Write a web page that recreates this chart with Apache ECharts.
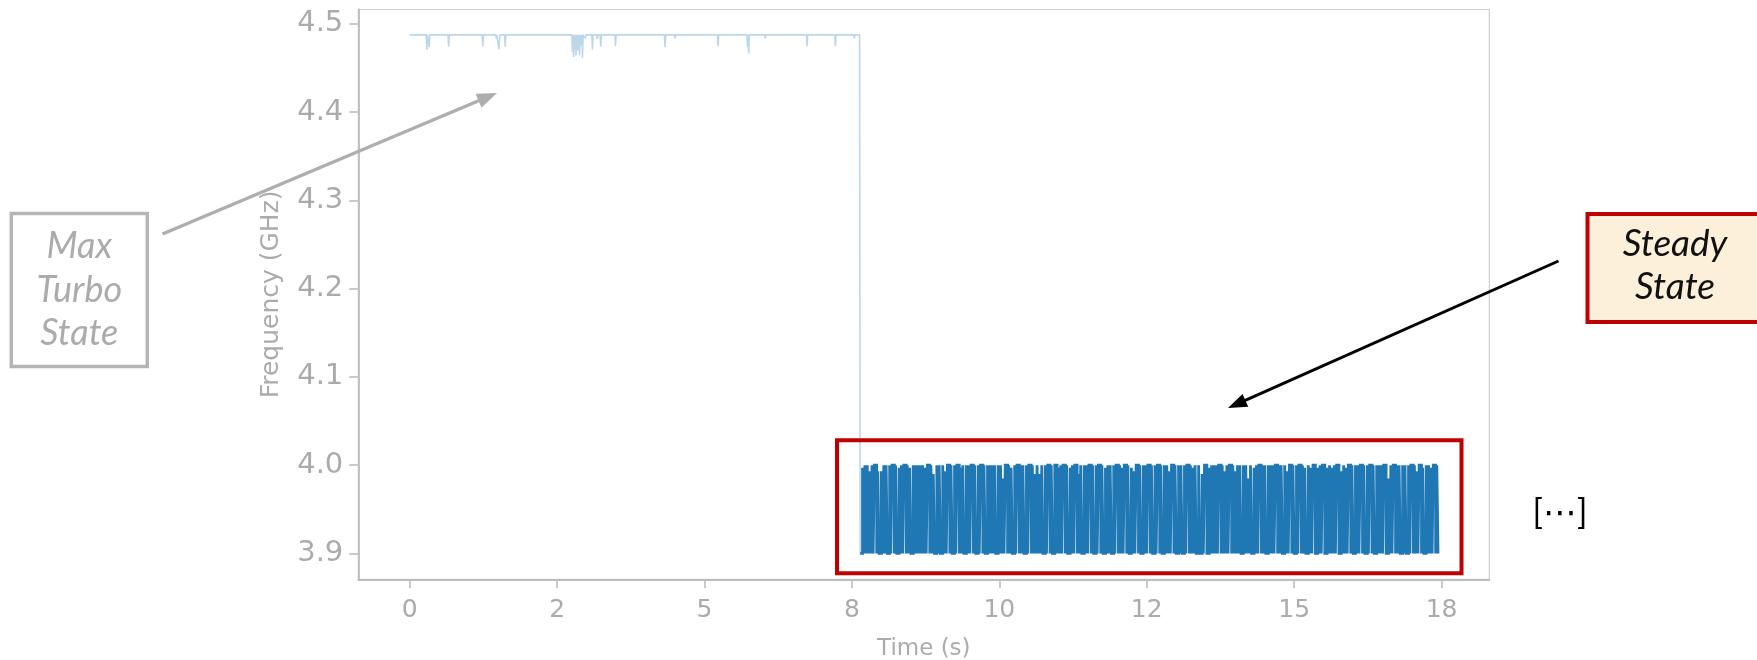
<!DOCTYPE html>
<html>
<head>
<meta charset="utf-8">
<script src="https://cdn.jsdelivr.net/npm/echarts@6/dist/echarts.min.js"></script>
<style>
html,body{margin:0;padding:0;background:#fff;}
#chart{width:1757px;height:660px;}
</style>
</head>
<body>
<div id="chart"></div>
<script>
// ---------------- data ----------------
// x ticks (matplotlib rounded labels at 2.5 s steps)
const xTickValues = [0, 2.5, 5, 7.5, 10, 12.5, 15, 17.5];
const xTickLabels = ['0', '2', '5', '8', '10', '12', '15', '18'];
const yTickValues = [3.9, 4.0, 4.1, 4.2, 4.3, 4.4, 4.5];
const yTickLabels = ['3.9', '4.0', '4.1', '4.2', '4.3', '4.4', '4.5'];

// Max-turbo phase: time (s) and frequency (GHz)
const turboTime = [
  0, 0.28, 0.29, 0.30, 0.32, 0.33, 0.34,
  0.65, 0.66, 0.67,
  1.23, 1.24, 1.25,
  1.46, 1.47, 1.48, 1.50, 1.51, 1.52, 1.53,
  1.61, 1.62, 1.63,
  2.75, 2.76, 2.77, 2.78, 2.79, 2.80, 2.81, 2.82, 2.83, 2.85, 2.86, 2.88, 2.89, 2.91, 2.92, 2.93, 2.94,
  2.97, 2.98, 2.99,
  3.09, 3.10, 3.11, 3.17, 3.18, 3.19, 3.23, 3.24, 3.25,
  3.48, 3.49, 3.50,
  4.32, 4.33, 4.34,
  4.49, 4.50, 4.51,
  5.22, 5.23, 5.24,
  5.37, 5.38, 5.39,
  5.72, 5.73, 5.74, 5.75, 5.76,
  6.02, 6.03, 6.04,
  6.73, 6.74, 6.75,
  7.21, 7.22, 7.23,
  7.53, 7.54, 7.55,
  7.63, 7.64
];
const turboFreq = [
  4.4875, 4.4875, 4.4705, 4.4875, 4.4875, 4.4735, 4.4875,
  4.4875, 4.4740, 4.4875,
  4.4875, 4.4745, 4.4875,
  4.4875, 4.4830, 4.4875, 4.4875, 4.4710, 4.4705, 4.4875,
  4.4875, 4.4740, 4.4875,
  4.4875, 4.4680, 4.4875, 4.4625, 4.4875, 4.4705, 4.4875, 4.4640, 4.4875, 4.4700, 4.4875, 4.4645, 4.4875, 4.4755, 4.4875, 4.4615, 4.4875,
  4.4875, 4.4835, 4.4875,
  4.4875, 4.4710, 4.4875, 4.4875, 4.4830, 4.4875, 4.4875, 4.4740, 4.4875,
  4.4875, 4.4750, 4.4875,
  4.4875, 4.4735, 4.4875,
  4.4875, 4.4835, 4.4875,
  4.4875, 4.4745, 4.4875,
  4.4875, 4.4860, 4.4875,
  4.4875, 4.4735, 4.4875, 4.4660, 4.4875,
  4.4875, 4.4835, 4.4875,
  4.4875, 4.4745, 4.4875,
  4.4875, 4.4745, 4.4875,
  4.4875, 4.4835, 4.4875,
  4.4875, 3.9
];

// Steady phase: one sample every steadyStep seconds from steadyStart
const steadyStart = 7.64;
const steadyStep = 0.02;
// level codes of each sample (H = 4.0 GHz, L = 3.9 GHz, a-d = slightly lower peaks)
const steadyLevelValues = { L: 3.9, H: 4.0, a: 3.997, b: 3.993, c: 3.990, d: 3.985 };
const steadySamples = [
  'LLaLHLHLbL', 'HLHHLbLLbL', 'HLHLLHLHHL', 'HLLaLHLHHL', 'HLaLLHLHLH',
  'LHLHLaLHHL', 'HLcLLHLHLL', 'HLbLHHLHLL', 'HLHHLaLHLL', 'HLHLHHLHLL',
  'HLHHLHLLHL', 'HLHLHLLHLH', 'LdLHHLHLaL', 'LHLHHLHLHL', 'LHLHHLHLcL',
  'HLcLHLLHLH', 'HLHLLHHLaL', 'HLHHLHLLaL', 'HLHHLcLHLL', 'HLHLHHLHLL',
  'HLHHLHLLaL', 'HLHLLHLHHL', 'HLaLHHLHLL', 'aLbLHHLHLL', 'HLHLHHLHLL',
  'HLHHLHLLHL', 'HLbLHHLHLL', 'HLHLLHLHHL', 'HLaLHLLHLL', 'cLHHLLaLHL',
  'HLHLHHLHLb', 'LHLHHLHLbL', 'HLHLLHLHLd', 'LHLLaLHLHH', 'LHLHLLHLHL',
  'HLHHLHLHLL', 'HLbLHHLHLL', 'HLHHLHLaLL', 'HLaLHHLLaL', 'HLHHLLaLHL',
  'aLHLHHLLbL', 'HLaLHHLHLL', 'HLHLHHLHLL', 'HLHHLHLLHL', 'HLHLHHLLdL',
  'HLHHLHLHLL', 'HLHLLHLHHL', 'HLbLHHLaLL', 'HLHLaLHHLH', 'L'
].join('');

// ---------------- build series ----------------
const turboData = turboTime.map((t, i) => [t, turboFreq[i]]);
const steadyData = steadySamples.split('').map((c, i) =>
  [+(steadyStart + i * steadyStep).toFixed(4), steadyLevelValues[c]]);

function lookup(vals, labels, v) {
  const i = vals.findIndex(x => Math.abs(x - v) < 1e-6);
  return i >= 0 ? labels[i] : '';
}

const axisGray = '#bdbdbd';
const textGray = '#ababab';
const tickFont = 'DejaVu Sans';

function arrow(x1, y1, x2, y2, color, width, headLen, headHalf) {
  const dx = x2 - x1, dy = y2 - y1, len = Math.hypot(dx, dy);
  const ux = dx / len, uy = dy / len, nx = -uy, ny = ux;
  const bx = x2 - ux * headLen, by = y2 - uy * headLen;
  return [
    { type: 'line', z: 100, shape: { x1: x1, y1: y1, x2: bx + ux * 2, y2: by + uy * 2 },
      style: { stroke: color, lineWidth: width } },
    { type: 'polygon', z: 101,
      shape: { points: [[x2, y2], [bx + nx * headHalf, by + ny * headHalf], [bx - nx * headHalf, by - ny * headHalf]] },
      style: { fill: color } }
  ];
}

const chart = echarts.init(document.getElementById('chart'), null, { renderer: 'canvas' });
chart.setOption({
  animation: false,
  backgroundColor: '#ffffff',
  grid: {
    left: 358.3, right: 267.7, top: 9.5, bottom: 80.7,
    containLabel: false, outerBoundsMode: 'none',
    show: true, borderColor: '#cfcfcf', borderWidth: 1.2, backgroundColor: 'transparent'
  },
  xAxis: {
    type: 'value', min: -0.872, max: 18.31,
    name: 'Time (s)', nameLocation: 'middle', nameGap: 58,
    nameTextStyle: { color: textGray, fontFamily: tickFont, fontSize: 23 },
    axisLine: { show: true, onZero: false, lineStyle: { color: axisGray, width: 1.8 } },
    axisTick: { show: true, length: 9, inside: false, customValues: xTickValues,
      lineStyle: { color: axisGray, width: 1.6 } },
    axisLabel: { show: true, margin: 19, customValues: xTickValues, color: textGray,
      fontFamily: tickFont, fontSize: 25,
      formatter: v => lookup(xTickValues, xTickLabels, v) },
    splitLine: { show: false }
  },
  yAxis: {
    type: 'value', min: 3.8707, max: 4.5162,
    name: 'Frequency (GHz)', nameLocation: 'middle', nameGap: 74,
    nameTextStyle: { color: textGray, fontFamily: tickFont, fontSize: 25 },
    axisLine: { show: true, onZero: false, lineStyle: { color: axisGray, width: 1.8 } },
    axisTick: { show: true, length: 9, inside: false, customValues: yTickValues,
      lineStyle: { color: axisGray, width: 1.6 } },
    axisLabel: { show: true, margin: 15, customValues: yTickValues, color: textGray,
      fontFamily: tickFont, fontSize: 29,
      formatter: v => lookup(yTickValues, yTickLabels, v) },
    splitLine: { show: false }
  },
  series: [
    {
      name: 'turbo', type: 'line', data: turboData, showSymbol: false, silent: true,
      lineStyle: { color: '#bcd6ea', width: 1.6 }, z: 2
    },
    {
      name: 'steady', type: 'line', data: steadyData, showSymbol: false, silent: true,
      step: 'end',
      lineStyle: { color: '#1f77b4', width: 2.8, join: 'miter', cap: 'butt' }, z: 3
    }
  ],
  graphic: [
    // red highlight box around the steady phase
    { type: 'rect', z: 90, shape: { x: 837, y: 440.3, width: 624.5, height: 133 },
      style: { fill: 'none', stroke: '#c00000', lineWidth: 4 } },
    // Max Turbo State label
    { type: 'rect', z: 100, shape: { x: 11.3, y: 213.5, width: 136, height: 153 },
      style: { fill: '#ffffff', stroke: '#b5b5b5', lineWidth: 3.5 } },
    { type: 'text', z: 102, style: { text: 'Max\nTurbo\nState', x: 79.3, y: 290,
      textAlign: 'center', textVerticalAlign: 'middle', lineHeight: 43.5,
      font: 'italic 36px Lato', fill: '#ababab' } },
    ...arrow(162.5, 234, 497, 93, '#aeaeae', 3.5, 20, 7.5),
    // Steady State label
    { type: 'rect', z: 100, shape: { x: 1587.5, y: 214, width: 220, height: 108 },
      style: { fill: '#fdf0da', stroke: '#c00000', lineWidth: 4 } },
    { type: 'text', z: 102, style: { text: 'Steady\nState', x: 1675, y: 266,
      textAlign: 'center', textVerticalAlign: 'middle', lineHeight: 43,
      font: 'italic 37px Lato', fill: '#111111' } },
    ...arrow(1558.5, 261, 1228, 408, '#000000', 3, 19, 7),
    { type: 'text', z: 102, style: { text: '[\u22ef]', x: 1560, y: 513,
      textAlign: 'center', textVerticalAlign: 'middle',
      font: '34px Lato, "DejaVu Sans"', fill: '#000000' } }
  ]
});
</script>
</body>
</html>
